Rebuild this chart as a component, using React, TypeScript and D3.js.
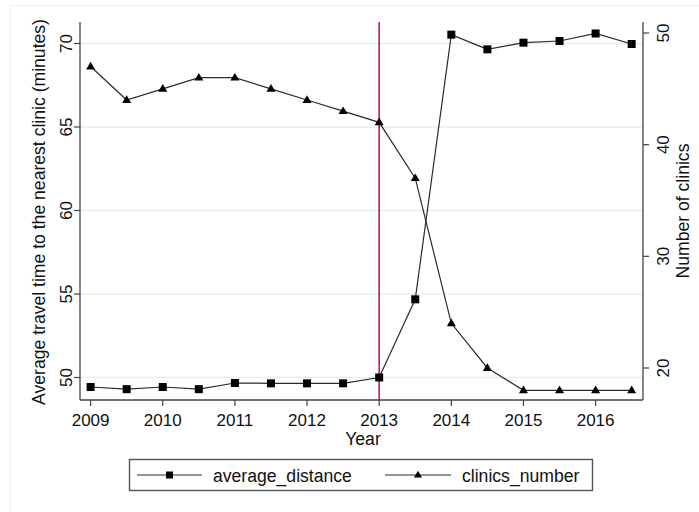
import React from "react";
import * as d3 from "d3";

// Yearly observations (half-year steps)
const years = [2009, 2009.5, 2010, 2010.5, 2011, 2011.5, 2012, 2012.5, 2013, 2013.5, 2014, 2014.5, 2015, 2015.5, 2016, 2016.5];
const averageDistance = [49.43, 49.3, 49.43, 49.3, 49.67, 49.65, 49.65, 49.65, 50.0, 54.68, 70.53, 69.65, 70.05, 70.15, 70.6, 69.97];
const clinicsNumber = [47, 44, 45, 46, 46, 45, 44, 43, 42, 37, 24, 20, 18, 18, 18, 18];

const xTicks = [2009, 2010, 2011, 2012, 2013, 2014, 2015, 2016];
const leftTicks = [50, 55, 60, 65, 70];
const rightTicks = [20, 30, 40, 50];
const policyYear = 2013;

const W = 699;
const H = 512;
const plot = { left: 80, right: 643, top: 22, bottom: 400 };
const FONT = "'Liberation Sans', Arial, Helvetica, sans-serif";
const FS = 17;
const FS_TITLE = 17.6;

export default function App() {
  const x = d3.scaleLinear().domain([2009, 2016]).range([90.6, 595.6]);
  const yL = d3.scaleLinear().domain([50, 70]).range([377.5, 43.5]);
  const yR = d3.scaleLinear().domain([20, 50]).range([368, 33]);

  const lineL = d3.line<number>().x((_, i) => x(years[i])).y((d) => yL(d));
  const lineR = d3.line<number>().x((_, i) => x(years[i])).y((d) => yR(d));

  const tri = (cx: number, cy: number, s = 9) => {
    const h = s * 0.85;
    return `M${cx},${cy - h * 0.62} L${cx + s / 2},${cy + h * 0.38} L${cx - s / 2},${cy + h * 0.38} Z`;
  };

  const lineColor = "#2b2b2b";

  return (
    <svg width={W} height={H} style={{ position: "absolute", left: 0, top: 0, background: "#fff" }} fontFamily={FONT}>
      <rect x={0} y={0} width={W} height={H} fill="#fff" />
      {/* faint graph-region frame */}
      <line x1={10.5} y1={5} x2={10.5} y2={H} stroke="#eeeeee" />
      <line x1={10} y1={5.5} x2={W} y2={5.5} stroke="#eeeeee" />

      {/* gridlines */}
      {leftTicks.map((t) => (
        <line key={t} x1={plot.left} x2={plot.right} y1={yL(t)} y2={yL(t)} stroke="#e6edf1" strokeWidth={1.3} />
      ))}

      {/* policy marker */}
      <line x1={x(policyYear)} x2={x(policyYear)} y1={plot.top} y2={plot.bottom} stroke="#c41a4c" strokeWidth={1.6} />

      {/* series */}
      <path d={lineR(clinicsNumber) || ""} fill="none" stroke={lineColor} strokeWidth={1.2} />
      <path d={lineL(averageDistance) || ""} fill="none" stroke={lineColor} strokeWidth={1.2} />
      {averageDistance.map((v, i) => (
        <rect key={"s" + i} x={x(years[i]) - 4} y={yL(v) - 4} width={8} height={8} fill="#000" />
      ))}
      {clinicsNumber.map((v, i) => (
        <path key={"t" + i} d={tri(x(years[i]), yR(v))} fill="#000" />
      ))}

      {/* axes */}
      <line x1={plot.left} x2={plot.left} y1={plot.top} y2={plot.bottom} stroke="#444" strokeWidth={1.3} />
      <line x1={plot.right} x2={plot.right} y1={plot.top} y2={plot.bottom} stroke="#444" strokeWidth={1.3} />
      <line x1={plot.left} x2={plot.right} y1={plot.bottom} y2={plot.bottom} stroke="#444" strokeWidth={1.3} />

      {xTicks.map((t) => (
        <g key={t}>
          <line x1={x(t)} x2={x(t)} y1={plot.bottom} y2={plot.bottom + 6} stroke="#444" strokeWidth={1.2} />
          <text x={x(t)} y={425.5} textAnchor="middle" fontSize={FS} fill="#111">{t}</text>
        </g>
      ))}
      <text x={363} y={445} textAnchor="middle" fontSize={FS_TITLE} fill="#111">Year</text>

      {leftTicks.map((t) => (
        <g key={t}>
          <line x1={plot.left - 6} x2={plot.left} y1={yL(t)} y2={yL(t)} stroke="#444" strokeWidth={1.2} />
          <text transform={`translate(72,${yL(t)}) rotate(-90)`} textAnchor="middle" fontSize={FS} fill="#111">{t}</text>
        </g>
      ))}
      <text transform={`translate(45,212) rotate(-90)`} textAnchor="middle" fontSize={FS_TITLE} fill="#111">
        Average travel time to the nearest clinic (minutes)
      </text>

      {rightTicks.map((t) => (
        <g key={t}>
          <line x1={plot.right} x2={plot.right + 6} y1={yR(t)} y2={yR(t)} stroke="#444" strokeWidth={1.2} />
          <text transform={`translate(668.5,${yR(t)}) rotate(-90)`} textAnchor="middle" fontSize={FS} fill="#111">{t}</text>
        </g>
      ))}
      <text transform={`translate(689,211) rotate(-90)`} textAnchor="middle" fontSize={FS_TITLE} fill="#111">
        Number of clinics
      </text>

      {/* legend */}
      <rect x={129.5} y={459.5} width={463} height={31} fill="#fff" stroke="#555" strokeWidth={1.4} />
      <line x1={137} x2={202} y1={475} y2={475} stroke={lineColor} strokeWidth={1.2} />
      <rect x={169.5 - 3.5} y={475 - 3.5} width={7} height={7} fill="#000" />
      <text x={213} y={481.5} fontSize={FS_TITLE} fill="#111">average_distance</text>
      <line x1={385} x2={451} y1={475} y2={475} stroke={lineColor} strokeWidth={1.2} />
      <path d={tri(418, 475, 8)} fill="#000" />
      <text x={462} y={481.5} fontSize={FS_TITLE} fill="#111">clinics_number</text>
    </svg>
  );
}
